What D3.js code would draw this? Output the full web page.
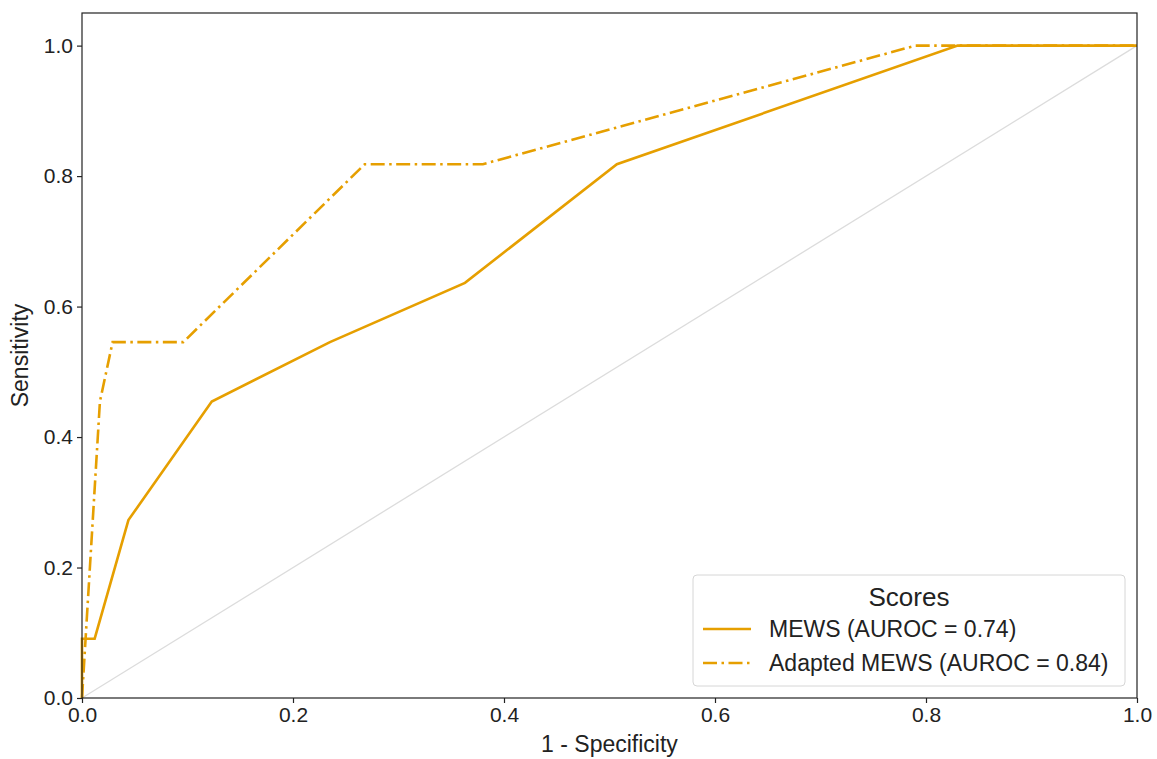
<!DOCTYPE html>
<html>
<head>
<meta charset="utf-8">
<script src="https://cdn.jsdelivr.net/npm/d3@7"></script>
<style>
  body { margin: 0; background: #fff; }
  text { font-family: "Liberation Sans", Arial, sans-serif; fill: #222; }
</style>
</head>
<body>
<div id="chart"></div>
<script>
// ROC curve points (1 - specificity, sensitivity)
var mewsFpr  = [0, 0, 0.012, 0.044, 0.123, 0.235, 0.363, 0.507, 0.830, 1.0];
var mewsTpr  = [0, 0.0909, 0.0909, 0.2727, 0.4545, 0.5455, 0.6364, 0.8182, 1.0, 1.0];
var adaptFpr = [0, 0.017, 0.029, 0.096, 0.268, 0.380, 0.790, 1.0];
var adaptTpr = [0, 0.4545, 0.5455, 0.5455, 0.8182, 0.8182, 1.0, 1.0];
var seriesNames = ["MEWS (AUROC = 0.74)", "Adapted MEWS (AUROC = 0.84)"];
var ticks = [0, 0.2, 0.4, 0.6, 0.8, 1.0];

var width = 1157, height = 759;
var margin = {left: 82, right: 20, top: 13, bottom: 61};
var orange = "#E69F00";

var svg = d3.select("#chart").append("svg")
    .attr("width", width)
    .attr("height", height);

var x = d3.scaleLinear().domain([0, 1]).range([margin.left, width - margin.right]);
var y = d3.scaleLinear().domain([0, 1.05]).range([height - margin.bottom, margin.top]);

// chance diagonal
svg.append("line")
    .attr("x1", x(0)).attr("y1", y(0))
    .attr("x2", x(1)).attr("y2", y(1))
    .attr("stroke", "#dcdcdc")
    .attr("stroke-width", 1.3);

var line = d3.line()
    .x(function(d) { return x(d[0]); })
    .y(function(d) { return y(d[1]); });

var mews = d3.zip(mewsFpr, mewsTpr);
var adapt = d3.zip(adaptFpr, adaptTpr);

svg.append("path")
    .datum(adapt)
    .attr("d", line)
    .attr("fill", "none")
    .attr("stroke", orange)
    .attr("stroke-width", 2.6)
    .attr("stroke-dasharray", "14,4.5,2.5,4.5");

svg.append("path")
    .datum(mews)
    .attr("d", line)
    .attr("fill", "none")
    .attr("stroke", orange)
    .attr("stroke-width", 2.6);

// axes
var xAxis = svg.append("g")
    .attr("transform", "translate(0," + y(0) + ")")
    .call(d3.axisBottom(x).tickValues(ticks).tickFormat(d3.format(".1f")).tickSize(5).tickPadding(4));
var yAxis = svg.append("g")
    .attr("transform", "translate(" + x(0) + ",0)")
    .call(d3.axisLeft(y).tickValues(ticks).tickFormat(d3.format(".1f")).tickSize(5).tickPadding(4));

[xAxis, yAxis].forEach(function(a) {
    a.select(".domain").remove();
    a.selectAll(".tick line").attr("stroke", "#222").attr("stroke-width", 1.2);
    a.selectAll(".tick text").style("font-size", "21px").style("fill", "#222");
});

// frame
svg.append("rect")
    .attr("x", x(0)).attr("y", y(1.05))
    .attr("width", x(1) - x(0))
    .attr("height", y(0) - y(1.05))
    .attr("fill", "none")
    .attr("stroke", "#222")
    .attr("stroke-width", 1.2);

svg.append("text")
    .attr("x", (x(0) + x(1)) / 2)
    .attr("y", 752)
    .attr("text-anchor", "middle")
    .style("font-size", "23px")
    .text("1 - Specificity");

svg.append("text")
    .attr("transform", "translate(28," + ((y(0) + y(1.05)) / 2) + ") rotate(-90)")
    .attr("text-anchor", "middle")
    .style("font-size", "23px")
    .text("Sensitivity");

// legend
var lg = svg.append("g").attr("transform", "translate(693,575)");
lg.append("rect")
    .attr("width", 432).attr("height", 111)
    .attr("rx", 4)
    .attr("fill", "#fff")
    .attr("fill-opacity", 0.8)
    .attr("stroke", "#d6d6d6")
    .attr("stroke-width", 1);
lg.append("text")
    .attr("x", 216).attr("y", 31)
    .attr("text-anchor", "middle")
    .style("font-size", "26px")
    .text("Scores");

var dashes = [null, "14,4.5,2.5,4.5"];
seriesNames.forEach(function(name, i) {
    var yy = 54 + i * 34;
    lg.append("line")
        .attr("x1", 10).attr("x2", 58)
        .attr("y1", yy).attr("y2", yy)
        .attr("stroke", orange)
        .attr("stroke-width", 2.6)
        .attr("stroke-dasharray", dashes[i]);
    lg.append("text")
        .attr("x", 76).attr("y", yy + 8)
        .style("font-size", "23px")
        .text(name);
});
</script>
</body>
</html>
